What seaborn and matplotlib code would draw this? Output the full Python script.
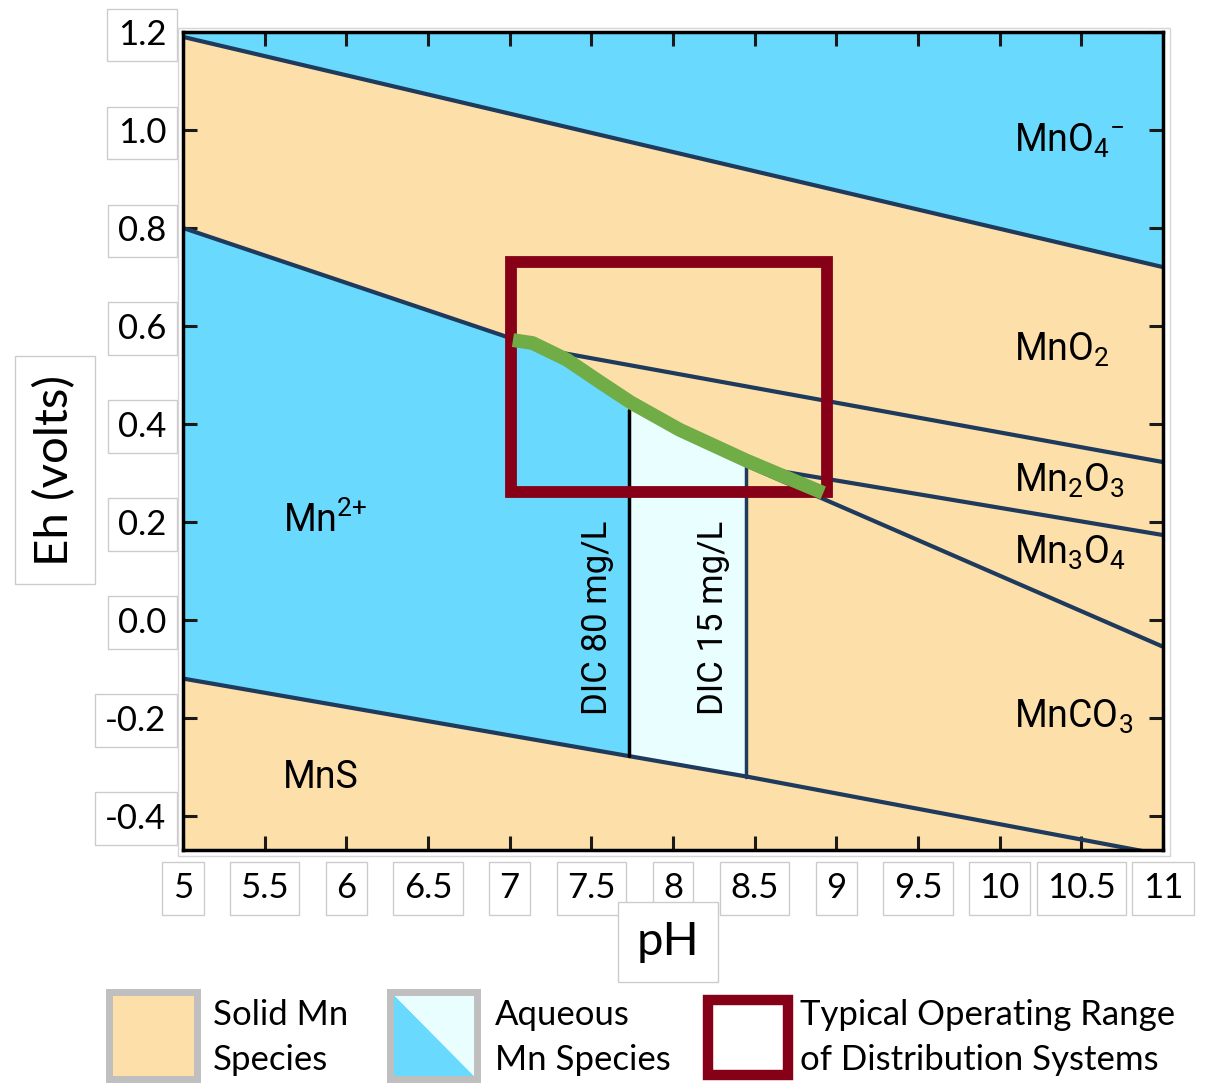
import numpy as np
import matplotlib
matplotlib.use('Agg')
import matplotlib.pyplot as plt
from matplotlib.patches import Rectangle, Polygon
import seaborn as sns

# --- Boundaries of the Mn Eh-pH diagram ---
mno4_ph = [5, 11]
mno4_eh = [1.19, 0.72]

# upper edge of the aqueous Mn2+ field
mn2_top_ph = [5, 7.22, 7.73, 8.45]
mn2_top_eh = [0.80, 0.551, 0.429, 0.315]

mno2_mn2o3_ph = [7.22, 11]
mno2_mn2o3_eh = [0.551, 0.322]

mn2o3_mn3o4_ph = [8.45, 11]
mn2o3_mn3o4_eh = [0.315, 0.173]

mn3o4_mnco3_ph = [8.45, 11]
mn3o4_mnco3_eh = [0.315, -0.055]

mns_ph = [5, 8.45, 11]
mns_eh = [-0.12, -0.32, -0.48]

dic_ph = [7.73, 8.45]
dic_labels = ['DIC 80 mg/L', 'DIC 15 mg/L']

# green curve inside the operating box
green_ph = [7.02, 7.14, 7.35, 7.55, 7.74, 8.04, 8.45, 8.92]
green_eh = [0.571, 0.565, 0.531, 0.486, 0.444, 0.388, 0.325, 0.259]

# typical operating range of distribution systems
box_ph = [7.01, 8.94]
box_eh = [0.261, 0.731]

xticks = [5, 5.5, 6, 6.5, 7, 7.5, 8, 8.5, 9, 9.5, 10, 10.5, 11]
xtick_labels = ['5', '5.5', '6', '6.5', '7', '7.5', '8', '8.5', '9', '9.5', '10', '10.5', '11']
yticks = [-0.4, -0.2, 0.0, 0.2, 0.4, 0.6, 0.8, 1.0, 1.2]
ytick_labels = ['-0.4', '-0.2', '0.0', '0.2', '0.4', '0.6', '0.8', '1.0', '1.2']

species = ['MnO$_4$$^{-}$', 'MnO$_2$', 'Mn$_2$O$_3$', 'Mn$_3$O$_4$', 'MnCO$_3$',
           'Mn$^{2{+}}$', 'MnS']
species_ph = [10.09, 10.09, 10.09, 10.09, 10.09, 5.61, 5.61]
species_eh = [0.955, 0.529, 0.261, 0.114, -0.220, 0.180, -0.343]

TAN = '#FDDFA9'
BLUE = '#6AD9FE'
PALE = '#E9FEFF'
LINE = '#1E3A5C'
RED = '#860018'
GREEN = '#70AD47'

sns.set_theme(style='white')
plt.rcParams['font.family'] = ['Lato', 'DejaVu Sans']
plt.rcParams['mathtext.fontset'] = 'custom'
plt.rcParams['mathtext.rm'] = 'Roboto'
plt.rcParams['mathtext.default'] = 'rm'
plt.rcParams.update({
    'xtick.bottom': True, 'xtick.top': True,
    'ytick.left': True, 'ytick.right': True,
    'xtick.direction': 'in', 'ytick.direction': 'in',
    'axes.axisbelow': False,
})
narrow = ['Roboto', 'DejaVu Sans']

fig = plt.figure(figsize=(12.09, 10.84), dpi=100)
ax = fig.add_axes([183 / 1209, 1 - 850 / 1084, 980 / 1209, 818 / 1084])
ax.set_facecolor(TAN)
ax.set_xlim(5, 11)
ax.set_ylim(-0.47, 1.2)

# --- fields ---
ax.fill_between(mno4_ph, mno4_eh, 1.2, color=BLUE, lw=0, zorder=1)


def fill_field(x0, x1, color):
    pts = [p for p in mn2_top_ph + mns_ph if x0 < p < x1]
    xs = np.unique(np.r_[x0, x1, pts])
    ax.fill_between(xs, np.interp(xs, mns_ph, mns_eh),
                    np.interp(xs, mn2_top_ph, mn2_top_eh),
                    color=color, lw=0, zorder=1)


fill_field(5, dic_ph[0], BLUE)
fill_field(dic_ph[0], dic_ph[1], PALE)

# --- boundary lines ---
for xs, ys in [(mno4_ph, mno4_eh), (mn2_top_ph[:2], mn2_top_eh[:2]),
               (mno2_mn2o3_ph, mno2_mn2o3_eh), (mn2o3_mn3o4_ph, mn2o3_mn3o4_eh),
               (mn3o4_mnco3_ph, mn3o4_mnco3_eh), (mns_ph, mns_eh)]:
    sns.lineplot(x=xs, y=ys, ax=ax, color=LINE, lw=3, estimator=None, sort=False, zorder=3)

for p, c in zip(dic_ph, ['black', LINE]):
    lo = np.interp(p, mns_ph, mns_eh)
    hi = np.interp(p, mn2_top_ph, mn2_top_eh)
    ax.plot([p, p], [lo, hi], color=c, lw=2.5, zorder=3)

# operating box and green curve
ax.add_patch(Rectangle((box_ph[0], box_eh[0]), box_ph[1] - box_ph[0], box_eh[1] - box_eh[0],
                       fill=False, ec=RED, lw=8.5, zorder=4, joinstyle='miter'))
sns.lineplot(x=green_ph, y=green_eh, ax=ax, color=GREEN, lw=10, estimator=None,
             sort=False, zorder=5, solid_capstyle='butt')

# --- labels in the fields ---
for s, x, y in zip(species, species_ph, species_eh):
    ax.text(x, y, s, fontsize=27, family=narrow, color='black',
            ha='left', va='baseline', zorder=6)
dic_label_ph = [7.54, 8.245]
for s, x in zip(dic_labels, dic_label_ph):
    ax.text(x, 0.004, s, fontsize=25, family=narrow, color='black', rotation=90,
            ha='center', va='center', zorder=6)

# --- axes styling ---
ax.set_xticks(xticks)
ax.set_xticklabels(xtick_labels)
ax.set_yticks(yticks)
ax.set_yticklabels(ytick_labels)
ax.tick_params(which='major', direction='in', length=10, width=2.2, color='#1a1a1a',
               bottom=True, left=True, top=True, right=True,
               labelsize=25, labelcolor='black', zorder=8)
ax.tick_params(axis='x', pad=16)
ax.tick_params(axis='y', pad=12)
for lab in ax.get_xticklabels() + ax.get_yticklabels():
    lab.set_bbox(dict(boxstyle='square,pad=0.3', fc='white', ec='#cccccc', lw=1))
for sp in ax.spines.values():
    sp.set_color('black')
    sp.set_linewidth(2.5)
    sp.set_zorder(7)

ax.set_xlabel('pH', fontsize=34, color='black')
ax.set_ylabel('Eh (volts)', fontsize=34, color='black')
ax.xaxis.label.set_va('center')
ax.yaxis.label.set_va('center')
ax.xaxis.set_label_coords((668 - 183) / 980, (850 - 942) / 818)
ax.yaxis.set_label_coords((55 - 183) / 980, (850 - 470) / 818)
for lab in [ax.xaxis.label, ax.yaxis.label]:
    lab.set_bbox(dict(boxstyle='square,pad=0.4', fc='white', ec='#cccccc', lw=1))

# --- legend drawn in pixel space below the plot ---
lax = fig.add_axes([0, 0, 1, 1])
lax.set_xlim(0, 1209)
lax.set_ylim(1084, 0)
lax.axis('off')
lax.add_patch(Rectangle((178, 28), 992, 828, fill=False, ec='#d6d6d6', lw=1))

lax.add_patch(Rectangle((108.5, 991.5), 88, 87, fc=TAN, ec='#bfbfbf', lw=5))
lax.add_patch(Polygon([(390, 991), (390, 1079), (477, 1079)], closed=True, fc=BLUE, lw=0))
lax.add_patch(Polygon([(390, 991), (477, 991), (477, 1079)], closed=True, fc=PALE, lw=0))
lax.add_patch(Rectangle((390, 991.5), 87, 87, fill=False, ec='#bfbfbf', lw=5))
lax.add_patch(Rectangle((708, 1000), 80, 75, fc='white', ec=RED, lw=7.5, joinstyle='miter'))

legend_text = [(213, 'Solid Mn', 'Species'),
               (495, 'Aqueous', 'Mn Species'),
               (800, 'Typical Operating Range', 'of Distribution Systems')]
for x, l1, l2 in legend_text:
    lax.text(x, 1015, l1, fontsize=25, color='black', ha='left', va='center')
    lax.text(x, 1060, l2, fontsize=25, color='black', ha='left', va='center')

fig.savefig('out.png', dpi=100)
